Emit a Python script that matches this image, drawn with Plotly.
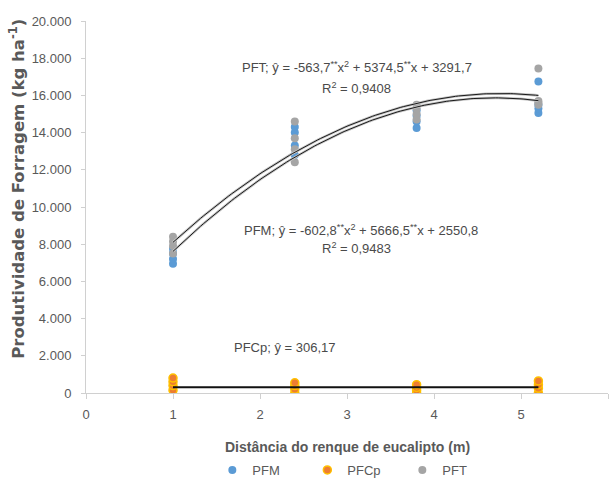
import numpy as np
import plotly.graph_objects as go

# Distances from the eucalyptus row (m)
distances = [1.0, 2.4, 3.8, 5.2]

# Forage yield per plot (kg ha-1), four readings per distance
pfm_values = {
    1.0: [6950, 7200, 7500, 7750],
    2.4: [12800, 13300, 14000, 14300],
    3.8: [14250, 14600, 14900, 15200],
    5.2: [15050, 15300, 15500, 16750],
}
pfcp_values = {
    1.0: [150, 400, 600, 800],
    2.4: [0, 200, 400, 550],
    3.8: [0, 150, 300, 450],
    5.2: [0, 250, 450, 650],
}
pft_values = {
    1.0: [7500, 7900, 8150, 8400],
    2.4: [12400, 13100, 13700, 14600],
    3.8: [14700, 15000, 15300, 15500],
    5.2: [15500, 15600, 15700, 17450],
}

# Fitted regression coefficients (a*x^2 + b*x + c)
pft_coef = [-563.7, 5374.5, 3291.7]
pfm_coef = [-602.8, 5666.5, 2550.8]
pfcp_mean = 306.17

y_ticks = list(range(0, 20001, 2000))
x_ticks = [0, 1, 2, 3, 4, 5, 6]

BLUE = "#5B9BD5"
ORANGE = "#ED7D31"
GREY = "#A5A5A5"
TXT = "#595959"
FONT = "Liberation Sans, Arial, sans-serif"


def flatten(d):
    xs, ys = [], []
    for x in distances:
        for v in d[x]:
            xs.append(x)
            ys.append(v)
    return xs, ys


fig = go.Figure()

x_pfm, y_pfm = flatten(pfm_values)
x_pfcp, y_pfcp = flatten(pfcp_values)
x_pft, y_pft = flatten(pft_values)

fig.add_trace(go.Scatter(x=x_pfm, y=y_pfm, mode="markers", name="PFM",
                         marker=dict(color=BLUE, size=8), legendrank=1))
fig.add_trace(go.Scatter(x=x_pfcp, y=y_pfcp, mode="markers", name="PFCp",
                         marker=dict(color=ORANGE, size=8,
                                     line=dict(color="#FFC000", width=1.5)),
                         legendrank=2))
fig.add_trace(go.Scatter(x=x_pft, y=y_pft, mode="markers", name="PFT",
                         marker=dict(color=GREY, size=8), legendrank=3))

# Regression curves
xf = np.linspace(distances[0], distances[-1], 120)
for coef in (pft_coef, pfm_coef):
    yf = coef[0] * xf ** 2 + coef[1] * xf + coef[2]
    fig.add_trace(go.Scatter(x=xf, y=yf, mode="lines", showlegend=False,
                             hoverinfo="skip",
                             line=dict(color="#C4C4C4", width=2.6)))
    fig.add_trace(go.Scatter(x=xf, y=yf, mode="lines", showlegend=False,
                             hoverinfo="skip",
                             line=dict(color="#1A1A1A", width=1.0)))

fig.add_trace(go.Scatter(x=[distances[0], distances[-1]],
                         y=[pfcp_mean, pfcp_mean], mode="lines",
                         showlegend=False, hoverinfo="skip",
                         line=dict(color="#111111", width=2)))

ann_font = dict(family=FONT, size=13, color="#4A4A4A")
annotations = [
    dict(x=3.11, y=17530, text="PFT; ŷ = -563,7<sup>**</sup>x<sup>2</sup> + 5374,5<sup>**</sup>x + 3291,7"),
    dict(x=3.11, y=16400, text="R<sup>2</sup> = 0,9408"),
    dict(x=3.16, y=8760, text="PFM; ŷ = -602,8<sup>**</sup>x<sup>2</sup> + 5666,5<sup>**</sup>x + 2550,8"),
    dict(x=3.11, y=7800, text="R<sup>2</sup> = 0,9483"),
    dict(x=2.29, y=2420, text="PFCp; ŷ = 306,17"),
]
for a in annotations:
    a.update(xref="x", yref="y", showarrow=False, font=ann_font)

annotations.append(dict(
    text="Produtividade de Forragem (kg ha<sup>-1</sup>)",
    xref="paper", yref="paper", x=-0.131, y=0.548, textangle=-90,
    xanchor="center", yanchor="middle",
    showarrow=False, font=dict(family="DejaVu Sans", size=16.5, color=TXT,
                               weight="bold")))
annotations.append(dict(
    text="Distância do renque de eucalipto (m)",
    xref="paper", yref="paper", x=0.5, y=-0.145,
    xanchor="center", yanchor="middle",
    showarrow=False, font=dict(family=FONT, size=14, color=TXT,
                               weight="bold")))

fig.update_layout(
    width=611, height=482,
    margin=dict(l=86, r=3, t=21, b=89, autoexpand=False),
    paper_bgcolor="white", plot_bgcolor="white",
    separators=",.",
    font=dict(family=FONT, size=13, color=TXT),
    showlegend=True,
    legend=dict(orientation="h", x=0.515, xanchor="center",
                yref="container", y=0.025, yanchor="middle",
                font=dict(family=FONT, size=13, color=TXT),
                entrywidth=50, itemwidth=30),
    annotations=annotations,
    xaxis=dict(range=[0, 6], tickvals=x_ticks, showgrid=False, zeroline=False,
               showline=True, linecolor="#D0D0D0", linewidth=1,
               ticks="outside", ticklen=5, tickcolor="#D0D0D0",
               ticklabelstandoff=4,
               tickfont=dict(family=FONT, size=13, color=TXT)),
    yaxis=dict(range=[0, 20000], tickvals=y_ticks, tickformat=",.0f",
               showgrid=False, zeroline=False,
               showline=True, linecolor="#D0D0D0", linewidth=1,
               ticks="outside", ticklen=4, tickcolor="#D0D0D0",
               ticklabelstandoff=7,
               tickfont=dict(family=FONT, size=13, color=TXT)),
)

fig.write_html("out.html")
